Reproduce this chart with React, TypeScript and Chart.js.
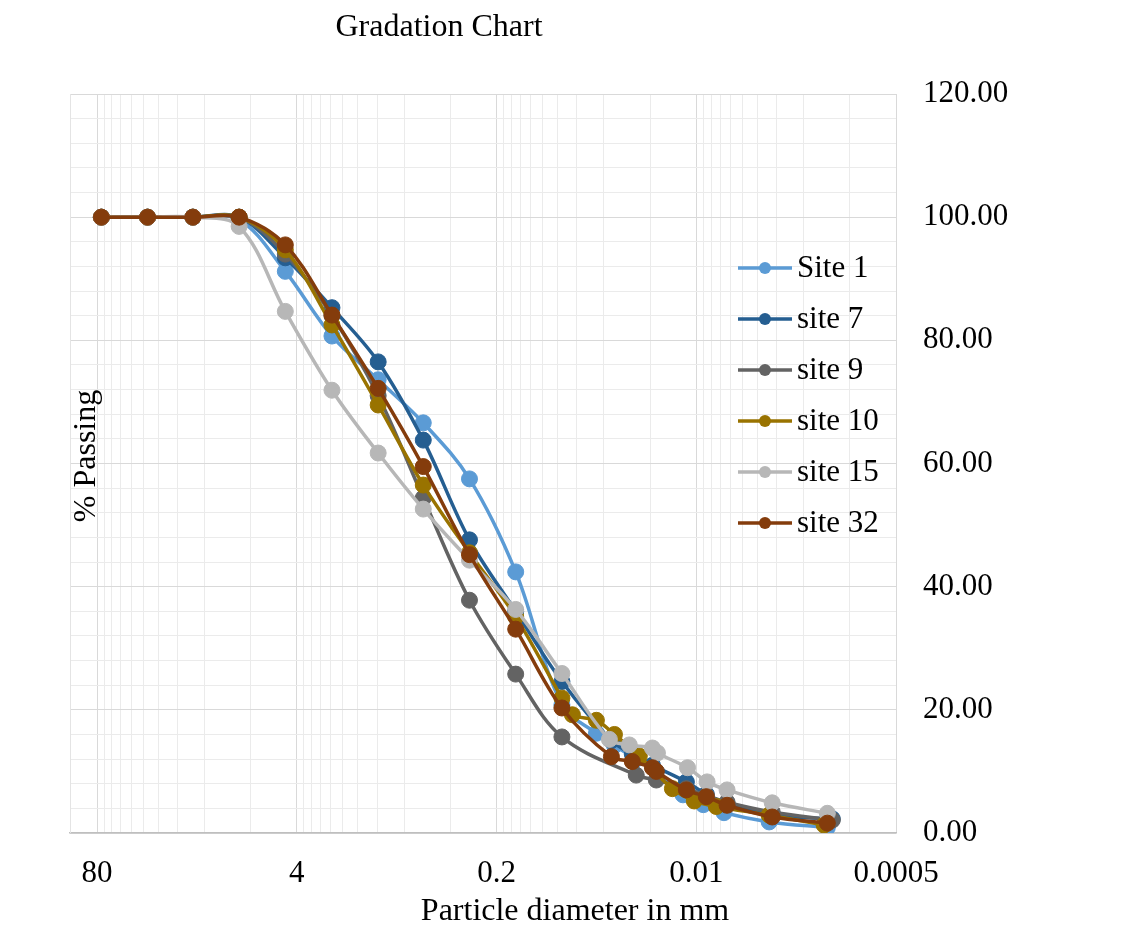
import React, { useEffect, useRef } from 'react';
import { Chart, registerables } from 'chart.js';

Chart.register(...registerables);

const FONT = "'Liberation Serif', 'Times New Roman', serif";

// Sieve sizes (mm) shared by all sites
const sieveSizes = [75, 37.5, 19, 9.5, 4.75, 2.36, 1.18, 0.6, 0.3, 0.15, 0.075];

// Site 1
const site1Sieve = [100, 100, 100, 99.6, 91.2, 80.7, 73.6, 66.6, 57.5, 42.4, 20.8];
const site1HydroD = [0.0447, 0.0341, 0.0246, 0.0182, 0.0122, 0.009, 0.0066, 0.00335, 0.0014];
const site1HydroP = [16.2, 14.2, 12.0, 10.0, 6.2, 4.6, 3.3, 1.8, 0.9];

// site 7
const site7Sieve = [100, 100, 100, 100, 93.4, 85.3, 76.5, 63.8, 47.6, 36.0, 24.6];
const site7HydroD = [0.0357, 0.0261, 0.0193, 0.0116, 0.0086, 0.0063, 0.0032, 0.0013];
const site7HydroP = [15.0, 12.8, 11.0, 8.3, 6.3, 4.8, 2.9, 2.3];

// site 9
const site9Sieve = [100, 100, 100, 100, 94.0, 84.0, 71.0, 54.4, 37.8, 25.8, 15.6];
const site9HydroD = [0.0246, 0.0182, 0.0116, 0.0086, 0.0063, 0.0032, 0.0013];
const site9HydroP = [9.4, 8.6, 7.2, 6.1, 5.0, 3.4, 2.1];

// site 10
const site10Sieve = [100, 100, 100, 100, 94.7, 82.5, 69.5, 56.5, 45.5, 35.1, 21.9];
const site10HydroD = [0.0641, 0.0447, 0.0341, 0.0235, 0.0143, 0.0103, 0.0074, 0.00335, 0.00147];
const site10HydroP = [19.2, 18.3, 16.0, 12.5, 7.2, 5.2, 4.3, 2.9, 1.3];

// site 15
const site15Sieve = [100, 100, 100, 98.5, 84.7, 71.9, 61.7, 52.6, 44.3, 36.3, 25.9];
const site15HydroD = [0.0368, 0.0273, 0.0193, 0.0179, 0.0114, 0.0085, 0.0063, 0.0032, 0.0014];
const site15HydroP = [15.2, 14.3, 13.8, 13.0, 10.6, 8.3, 7.0, 4.9, 3.2];

// site 32
const site32Sieve = [100, 100, 100, 100, 95.5, 84.1, 72.2, 59.5, 45.2, 33.1, 20.3];
const site32HydroD = [0.0357, 0.0261, 0.0193, 0.0182, 0.0116, 0.0086, 0.0063, 0.0032, 0.0014];
const site32HydroP = [12.4, 11.6, 10.6, 10.0, 7.0, 5.9, 4.5, 2.6, 1.6];

const seriesNames = ['Site 1', 'site 7', 'site 9', 'site 10', 'site 15', 'site 32'];
const seriesColors = ['#5B9BD5', '#255E91', '#636363', '#997300', '#B7B7B7', '#843C0C'];

// Axis ticks
const xMajorTicks = [80, 4, 0.2, 0.01, 0.0005];
const xMajorLabels = ['80', '4', '0.2', '0.01', '0.0005'];
const xMinorMultipliers = [2, 4, 6, 8, 10, 12, 14, 16, 18];
const yTickLabels = ['0.00', '20.00', '40.00', '60.00', '80.00', '100.00', '120.00'];

const TITLE = 'Gradation Chart';
const X_TITLE = 'Particle diameter in mm';
const Y_TITLE = '% Passing';

function buildPoints(sieve: number[], hd: number[], hp: number[]) {
  const pts = sieveSizes.map((d, i) => ({ x: d, y: sieve[i] }));
  hd.forEach((d, i) => pts.push({ x: d, y: hp[i] }));
  return pts;
}

const isXMajor = (v: number) => xMajorTicks.some((t) => Math.abs(t - v) / t < 1e-6);

export default function App() {
  const ref = useRef<HTMLCanvasElement | null>(null);

  useEffect(() => {
    if (!ref.current) return;
    const all = [
      buildPoints(site1Sieve, site1HydroD, site1HydroP),
      buildPoints(site7Sieve, site7HydroD, site7HydroP),
      buildPoints(site9Sieve, site9HydroD, site9HydroP),
      buildPoints(site10Sieve, site10HydroD, site10HydroP),
      buildPoints(site15Sieve, site15HydroD, site15HydroP),
      buildPoints(site32Sieve, site32HydroD, site32HydroP),
    ];
    const n = all.length;
    const datasets = all.map((pts, i) => ({
      label: seriesNames[i],
      data: pts,
      borderColor: seriesColors[i],
      backgroundColor: seriesColors[i],
      pointBackgroundColor: seriesColors[i],
      pointBorderColor: seriesColors[i],
      borderWidth: 3.5,
      pointRadius: 8,
      pointBorderWidth: 1,
      tension: 0.35,
      fill: false,
      order: n - i,
    }));

    const gridValues: number[] = [];
    [0.0005, 0.01, 0.2, 4].forEach((m) => {
      gridValues.push(m);
      xMinorMultipliers.forEach((k) => gridValues.push(m * k));
    });
    gridValues.push(80);
    gridValues.sort((a, b) => b - a);

    const overlay = {
      id: 'overlay',
      beforeDatasetsDraw(chart: any) {
        const { ctx, chartArea } = chart;
        ctx.save();
        ctx.strokeStyle = '#E4E4E4';
        ctx.lineWidth = 1;
        ctx.beginPath();
        ctx.moveTo(chartArea.left + 0.5, chartArea.top);
        ctx.lineTo(chartArea.left + 0.5, chartArea.bottom);
        ctx.stroke();
        ctx.restore();
      },
      afterDraw(chart: any) {
        const { ctx } = chart;
        ctx.save();
        ctx.fillStyle = '#000';
        ctx.font = `32px ${FONT}`;
        ctx.textAlign = 'center';
        ctx.textBaseline = 'middle';
        ctx.fillText(TITLE, 439, 28);
        ctx.fillText(X_TITLE, 575, 912);
        ctx.save();
        ctx.translate(87, 456);
        ctx.rotate(-Math.PI / 2);
        ctx.fillText(Y_TITLE, 0, 0);
        ctx.restore();
        // legend
        ctx.font = `31px ${FONT}`;
        const ys = [268, 319, 370, 421, 472, 523];
        chart.data.datasets.forEach((ds: any, i: number) => {
          const y = ys[i];
          ctx.strokeStyle = ds.borderColor;
          ctx.lineWidth = 3.5;
          ctx.beginPath();
          ctx.moveTo(738, y);
          ctx.lineTo(792, y);
          ctx.stroke();
          ctx.fillStyle = ds.borderColor;
          ctx.beginPath();
          ctx.arc(765, y, 6, 0, Math.PI * 2);
          ctx.fill();
          ctx.fillStyle = '#000';
          ctx.textAlign = 'left';
          ctx.fillText(ds.label, 797, y + 1);
        });
        ctx.restore();
      },
    };

    const chart = new Chart(ref.current, {
      type: 'line',
      data: { datasets } as any,
      options: {
        animation: false,
        responsive: false,
        devicePixelRatio: 1,
        layout: { padding: { left: 70, top: 94, right: 0, bottom: 0 } },
        plugins: {
          legend: { display: false },
          title: { display: false },
          tooltip: { enabled: false },
        },
        scales: {
          x: {
            type: 'logarithmic',
            reverse: true,
            min: 0.0005,
            max: 120,
            bounds: 'data',
            afterFit: (s: any) => {
              s.height = 97;
            },
            afterBuildTicks: (s: any) => {
              s.ticks = gridValues.map((v) => ({ value: v, major: false }));
            },
            grid: {
              drawTicks: false,
              color: (c: any) => (c.tick && isXMajor(c.tick.value) ? '#D9D9D9' : '#EBEBEB'),
              lineWidth: 1,
            },
            border: { color: '#BFBFBF', width: 1.5 },
            ticks: {
              autoSkip: false,
              maxRotation: 0,
              padding: 22,
              color: '#000',
              font: { family: FONT, size: 31 },
              callback: (v: any) => {
                const idx = xMajorTicks.findIndex((t) => Math.abs(t - v) / t < 1e-6);
                return idx >= 0 ? xMajorLabels[idx] : '';
              },
            },
          },
          y: {
            type: 'linear',
            position: 'right',
            min: 0,
            max: 120,
            afterFit: (s: any) => {
              s.width = 232;
            },
            grid: {
              drawTicks: false,
              color: (c: any) => (c.tick && c.tick.value % 20 === 0 ? '#D9D9D9' : '#EBEBEB'),
              lineWidth: 1,
            },
            border: { display: false },
            ticks: {
              stepSize: 4,
              autoSkip: false,
              padding: 27,
              color: '#000',
              font: { family: FONT, size: 31 },
              callback: (v: any) => (v % 20 === 0 ? yTickLabels[v / 20] : ''),
            },
          },
        },
      } as any,
      plugins: [overlay],
    });
    return () => chart.destroy();
  }, []);

  return (
    <div style={{ position: 'absolute', left: 0, top: 0, width: 1128, height: 930, background: '#fff' }}>
      <canvas ref={ref} width={1128} height={930} style={{ width: 1128, height: 930 }} />
    </div>
  );
}
